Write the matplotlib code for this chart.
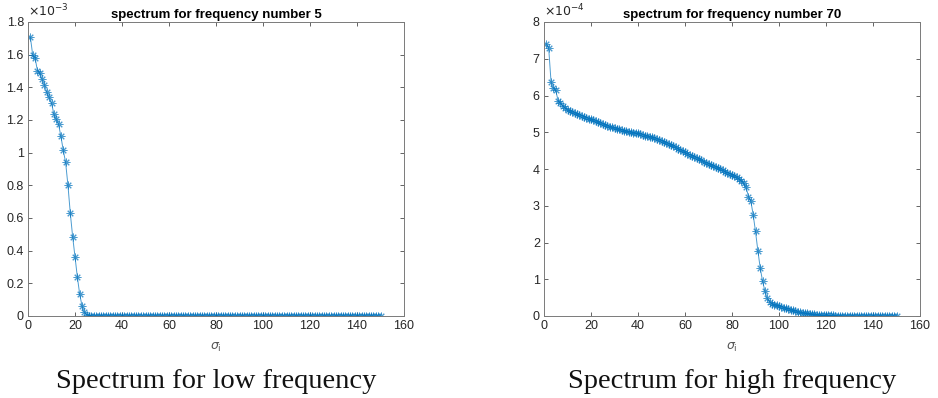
import matplotlib
matplotlib.use("Agg")
import matplotlib.pyplot as plt
from matplotlib.ticker import FuncFormatter, MultipleLocator

# Singular-value spectra, index 1..150
sigma_index = list(range(1, 151))

# frequency number 5, values in units of 1e-3
spectrum_f5 = [
    1.708, 1.598, 1.582, 1.502, 1.490, 1.449, 1.416, 1.370, 1.339, 1.304,
    1.237, 1.206, 1.174, 1.100, 1.015, 0.941, 0.800, 0.629, 0.486, 0.361,
    0.239, 0.133, 0.061, 0.023, 0.006, 0.003, 0.002, 0.001, 0.001, 0.001,
    0.001, 0.001, 0.0, 0.0, 0.0, 0.0, 0.0, 0.0, 0.0, 0.0,
    0.0, 0.0, 0.0, 0.0, 0.0, 0.0, 0.0, 0.0, 0.0, 0.0,
    0.0, 0.0, 0.0, 0.0, 0.0, 0.0, 0.0, 0.0, 0.0, 0.0,
    0.0, 0.0, 0.0, 0.0, 0.0, 0.0, 0.0, 0.0, 0.0, 0.0,
    0.0, 0.0, 0.0, 0.0, 0.0, 0.0, 0.0, 0.0, 0.0, 0.0,
    0.0, 0.0, 0.0, 0.0, 0.0, 0.0, 0.0, 0.0, 0.0, 0.0,
    0.0, 0.0, 0.0, 0.0, 0.0, 0.0, 0.0, 0.0, 0.0, 0.0,
    0.0, 0.0, 0.0, 0.0, 0.0, 0.0, 0.0, 0.0, 0.0, 0.0,
    0.0, 0.0, 0.0, 0.0, 0.0, 0.0, 0.0, 0.0, 0.0, 0.0,
    0.0, 0.0, 0.0, 0.0, 0.0, 0.0, 0.0, 0.0, 0.0, 0.0,
    0.0, 0.0, 0.0, 0.0, 0.0, 0.0, 0.0, 0.0, 0.0, 0.0,
    0.0, 0.0, 0.0, 0.0, 0.0, 0.0, 0.0, 0.0, 0.0, 0.0,
]
scale_f5 = 1e-3

# frequency number 70, values in units of 1e-4
spectrum_f70 = [
    7.41, 7.28, 6.37, 6.20, 6.14, 5.86, 5.80, 5.72, 5.66, 5.61,
    5.58, 5.55, 5.52, 5.49, 5.47, 5.45, 5.42, 5.40, 5.37, 5.35,
    5.32, 5.30, 5.27, 5.25, 5.22, 5.20, 5.17, 5.15, 5.13, 5.11,
    5.09, 5.08, 5.06, 5.04, 5.03, 5.02, 5.01, 4.99, 4.98, 4.97,
    4.95, 4.93, 4.91, 4.90, 4.88, 4.86, 4.84, 4.81, 4.79, 4.77,
    4.74, 4.71, 4.68, 4.65, 4.62, 4.59, 4.55, 4.52, 4.48, 4.45,
    4.42, 4.39, 4.36, 4.33, 4.30, 4.27, 4.24, 4.20, 4.17, 4.14,
    4.11, 4.08, 4.05, 4.02, 3.99, 3.96, 3.93, 3.90, 3.87, 3.84,
    3.80, 3.77, 3.73, 3.68, 3.62, 3.50, 3.25, 3.13, 2.76, 2.30,
    1.78, 1.31, 0.95, 0.68, 0.48, 0.38, 0.34, 0.31, 0.29, 0.27,
    0.25, 0.23, 0.21, 0.19, 0.17, 0.15, 0.13, 0.11, 0.10, 0.09,
    0.08, 0.07, 0.06, 0.05, 0.045, 0.04, 0.035, 0.03, 0.025, 0.02,
    0.018, 0.016, 0.014, 0.012, 0.010, 0.009, 0.008, 0.007, 0.006, 0.005,
    0.004, 0.004, 0.003, 0.003, 0.003, 0.002, 0.002, 0.002, 0.002, 0.001,
    0.001, 0.001, 0.001, 0.001, 0.001, 0.0, 0.0, 0.0, 0.0, 0.0,
]
scale_f70 = 1e-4

titles = ["spectrum for frequency number 5", "spectrum for frequency number 70"]
captions = ["Spectrum for low frequency", "Spectrum for high frequency"]
exponents = [r"$\times10^{-3}$", r"$\times10^{-4}$"]
y_limits = [1.8, 8.0]
y_steps = [0.2, 1.0]

plt.rcParams["font.family"] = ["Liberation Sans", "DejaVu Sans"]
plt.rcParams["mathtext.fontset"] = "dejavusans"

LINE_BLUE = "#0072BD"
AXIS_GREY = "#262626"

fig = plt.figure(figsize=(9.38, 3.98), dpi=100)
positions = [[28 / 938, 82 / 398, 376 / 938, 294 / 398],
             [544 / 938, 82 / 398, 376 / 938, 294 / 398]]

series = [(spectrum_f5, scale_f5), (spectrum_f70, scale_f70)]

for k, (vals, sc) in enumerate(series):
    ax = fig.add_axes(positions[k])
    yvals = [v * sc for v in vals]
    ax.plot(sigma_index, yvals, color=LINE_BLUE, alpha=0.7, lw=0.7,
            marker=(8, 2, 0), markersize=5.5, markeredgewidth=0.7)
    ax.set_xlim(0, 160)
    ax.set_ylim(0, y_limits[k] * sc)
    ax.xaxis.set_major_locator(MultipleLocator(20))
    ax.yaxis.set_major_locator(MultipleLocator(y_steps[k] * sc))
    ax.yaxis.set_major_formatter(
        FuncFormatter(lambda v, _, s=sc: f"{round(v / s, 6):g}"))
    ax.tick_params(direction="in", length=3, width=0.5, top=True, right=True,
                   labelsize=9, colors=AXIS_GREY, pad=3)
    for sp in ax.spines.values():
        sp.set_color("#7a7a7a")
        sp.set_linewidth(0.7)
    ax.set_title(titles[k], fontsize=9.5, fontweight="bold", color="black",
                 pad=3)
    ax.text(0.0, 1.008, exponents[k], transform=ax.transAxes,
            fontsize=9, color=AXIS_GREY, ha="left", va="bottom")
    ax.set_xlabel(r"$\sigma_{\rm i}$", fontsize=9, color="#555555",
                  labelpad=6)
    cx = positions[k][0] + positions[k][2] / 2
    fig.text(cx, 1 - 381 / 398, captions[k], ha="center", va="center",
             fontsize=20.5, family=["Liberation Serif", "DejaVu Serif"],
             color="#111111")

fig.savefig("out.png", dpi=100)
